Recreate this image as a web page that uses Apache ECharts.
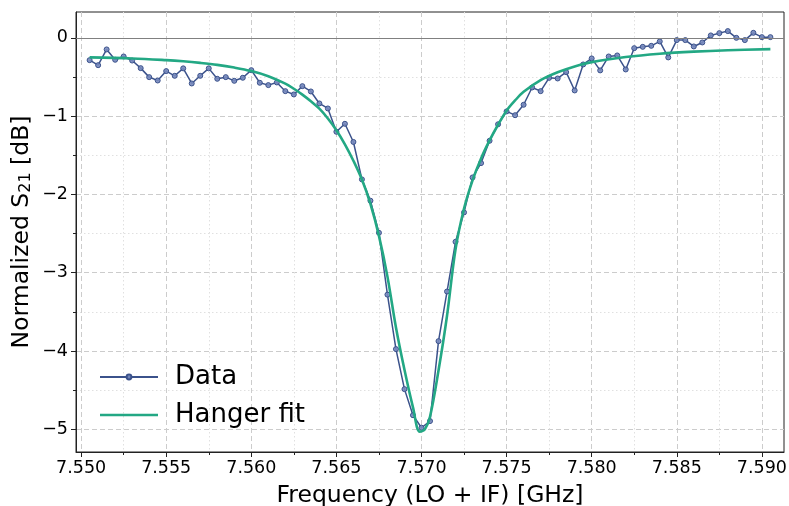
<!DOCTYPE html>
<html>
<head>
<meta charset="utf-8">
<script src="https://cdn.jsdelivr.net/npm/echarts@6/dist/echarts.min.js"></script>
<style>
html,body{margin:0;padding:0;background:#fff;}
#chart{width:789px;height:506px;}
</style>
</head>
<body>
<div id="chart"></div>
<script>
// Measured data (frequency in GHz, normalized S21 in dB)
const dataFreq = [
  7.5505, 7.5510, 7.5515, 7.5520, 7.5525, 7.5530, 7.5535, 7.5540, 7.5545, 7.5550,
  7.5555, 7.5560, 7.5565, 7.5570, 7.5575, 7.5580, 7.5585, 7.5590, 7.5595, 7.5600,
  7.5605, 7.5610, 7.5615, 7.5620, 7.5625, 7.5630, 7.5635, 7.5640, 7.5645, 7.5650,
  7.5655, 7.5660, 7.5665, 7.5670, 7.5675, 7.5680, 7.5685, 7.5690, 7.5695, 7.5700,
  7.5705, 7.5710, 7.5715, 7.5720, 7.5725, 7.5730, 7.5735, 7.5740, 7.5745, 7.5750,
  7.5755, 7.5760, 7.5765, 7.5770, 7.5775, 7.5780, 7.5785, 7.5790, 7.5795, 7.5800,
  7.5805, 7.5810, 7.5815, 7.5820, 7.5825, 7.5830, 7.5835, 7.5840, 7.5845, 7.5850,
  7.5855, 7.5860, 7.5865, 7.5870, 7.5875, 7.5880, 7.5885, 7.5890, 7.5895, 7.5900,
  7.5905
];
const dataS21 = [
  -0.285, -0.349, -0.148, -0.280, -0.238, -0.290, -0.387, -0.502, -0.545, -0.425,
  -0.485, -0.390, -0.583, -0.485, -0.390, -0.523, -0.502, -0.549, -0.510, -0.413,
  -0.574, -0.604, -0.570, -0.681, -0.723, -0.617, -0.685, -0.838, -0.902, -1.200,
  -1.098, -1.330, -1.808, -2.080, -2.490, -3.280, -3.976, -4.487, -4.820, -4.980,
  -4.895, -3.874, -3.240, -2.605, -2.230, -1.783, -1.600, -1.315, -1.104, -0.940,
  -0.988, -0.855, -0.634, -0.681, -0.511, -0.519, -0.438, -0.672, -0.340, -0.263,
  -0.416, -0.238, -0.225, -0.404, -0.132, -0.115, -0.102, -0.046, -0.250, -0.029,
  -0.029, -0.110, -0.059, 0.031, 0.060, 0.086, 0.000, -0.029, 0.064, 0.009,
  0.009
];
// Hanger fit curve
const fitFreq = [
  7.5505, 7.5530, 7.5550, 7.5560, 7.5570, 7.5580, 7.5590, 7.5600, 7.5610, 7.5620,
  7.5625, 7.5630, 7.5635, 7.5640, 7.5645, 7.5650, 7.5655, 7.5660, 7.5665, 7.5670,
  7.5675, 7.5680, 7.5685, 7.5690, 7.5695, 7.5699, 7.5702, 7.5705, 7.5710, 7.5715,
  7.5720, 7.5725, 7.5730, 7.5735, 7.5740, 7.5745, 7.5750, 7.5755, 7.5760, 7.5770,
  7.5780, 7.5790, 7.5800, 7.5820, 7.5840, 7.5860, 7.5880, 7.5905
];
const fitS21 = [
  -0.250, -0.263, -0.285, -0.300, -0.320, -0.345, -0.380, -0.425, -0.490, -0.585,
  -0.650, -0.725, -0.810, -0.905, -1.030, -1.180, -1.360, -1.570, -1.810, -2.120,
  -2.530, -3.050, -3.700, -4.240, -4.720, -5.030, -5.000, -4.840, -4.250, -3.550,
  -2.700, -2.180, -1.820, -1.540, -1.310, -1.110, -0.930, -0.800, -0.690, -0.540,
  -0.440, -0.365, -0.310, -0.245, -0.203, -0.176, -0.158, -0.144
];
// Tick positions
const xMajorTicks = [7.550, 7.555, 7.560, 7.565, 7.570, 7.575, 7.580, 7.585, 7.590];
const xMinorTicks = [7.5525, 7.5575, 7.5625, 7.5675, 7.5725, 7.5775, 7.5825, 7.5875];
const yMajorTicks = [-5, -4, -3, -2, -1, 0];
const yMinorTicks = [-4.5, -3.5, -2.5, -1.5, -0.5];
const seriesNames = ['Data', 'Hanger fit'];
const xTitle = 'Frequency (LO + IF) [GHz]';

const X_MIN = 7.5497, X_MAX = 7.5913, Y_MIN = -5.29, Y_MAX = 0.33;
const pairs = (xs, ys) => xs.map((x, i) => [x, ys[i]]);
const font = 'DejaVu Sans';
const axisColor = '#222';
const fitColor = '#23a884';

function majorAxis(extra) {
  return Object.assign({
    type: 'value',
    axisLine: {show: true, onZero: false, lineStyle: {color: axisColor, width: 1}},
    splitLine: {show: true, lineStyle: {color: '#cccccc', type: [5, 3], width: 1}},
    minorTick: {show: false}, minorSplitLine: {show: false}
  }, extra);
}
function minorAxis(extra) {
  return Object.assign({
    type: 'value',
    axisLine: {show: false, onZero: false},
    axisLabel: {show: false},
    splitLine: {show: true, lineStyle: {color: '#e0e0e0', type: [1.5, 2.5], width: 1}},
    minorTick: {show: false}, minorSplitLine: {show: false}
  }, extra);
}

const chart = echarts.init(document.getElementById('chart'), null, {renderer: 'canvas'});
chart.setOption({
  animation: false,
  backgroundColor: '#fff',
  grid: {left: 76, right: 5, top: 12, bottom: 54, show: true, borderColor: axisColor, borderWidth: 1,
         containLabel: false, outerBoundsMode: 'none'},
  xAxis: [
    majorAxis({
      min: X_MIN, max: X_MAX, position: 'bottom',
      name: xTitle, nameLocation: 'middle', nameGap: 32, nameMoveOverlap: false,
      nameTextStyle: {fontFamily: font, fontSize: 23.5, color: '#000'},
      axisTick: {show: true, inside: false, length: 5, customValues: xMajorTicks, lineStyle: {color: axisColor}},
      axisLabel: {fontFamily: font, fontSize: 17.5, color: '#000', margin: 7, customValues: xMajorTicks,
                  formatter: v => Number(v).toFixed(3)}
    }),
    minorAxis({
      min: X_MIN, max: X_MAX, position: 'bottom', gridIndex: 0,
      axisTick: {show: true, inside: false, length: 3, customValues: xMinorTicks, lineStyle: {color: axisColor}}
    })
  ],
  yAxis: [
    majorAxis({
      min: Y_MIN, max: Y_MAX, position: 'left',
      name: 'Normalized S{sub|21} [dB]', nameLocation: 'middle', nameGap: 42, nameRotate: 90, nameMoveOverlap: false,
      nameTextStyle: {fontFamily: font, fontSize: 23.5, color: '#000',
        rich: {sub: {fontFamily: font, fontSize: 16, color: '#000', verticalAlign: 'bottom', padding: [8, 0, 0, 0]}}},
      axisTick: {show: true, inside: false, length: 5, customValues: yMajorTicks, lineStyle: {color: axisColor}},
      axisLabel: {fontFamily: font, fontSize: 17.5, color: '#000', margin: 8, customValues: yMajorTicks,
                  formatter: v => String(Math.round(v)).replace('-', '\u2212')}
    }),
    minorAxis({
      min: Y_MIN, max: Y_MAX, position: 'left', gridIndex: 0,
      axisTick: {show: true, inside: false, length: 3, customValues: yMinorTicks, lineStyle: {color: axisColor}}
    })
  ],
  legend: {
    left: 94, top: 359, orient: 'vertical', itemWidth: 58, itemHeight: 6, itemGap: 12,
    data: [
      {name: seriesNames[0]},
      {name: seriesNames[1], icon: 'path://M0,0 L58,0 L58,2.6 L0,2.6 Z', itemStyle: {color: fitColor}}
    ],
    textStyle: {fontFamily: font, fontSize: 26, color: '#000', padding: [0, 0, 0, 12]}
  },
  series: [
    {
      name: 'zero', type: 'line', data: [], z: 1, silent: true, xAxisIndex: 0, yAxisIndex: 0,
      markLine: {
        silent: true, symbol: 'none', label: {show: false},
        lineStyle: {color: '#808080', type: 'solid', width: 1.2},
        data: [{yAxis: 0}]
      }
    },
    {
      name: seriesNames[0], type: 'line', z: 2, xAxisIndex: 0, yAxisIndex: 0,
      data: pairs(dataFreq, dataS21),
      symbol: 'circle', symbolSize: 5, showSymbol: true,
      lineStyle: {color: '#3b528b', width: 1.5},
      itemStyle: {color: 'rgba(120,138,190,0.9)', borderColor: '#3b528b', borderWidth: 1}
    },
    {
      name: seriesNames[1], type: 'line', z: 3, xAxisIndex: 0, yAxisIndex: 0,
      data: pairs(fitFreq, fitS21),
      smooth: 0.35, symbol: 'none', showSymbol: false,
      lineStyle: {color: fitColor, width: 2.6},
      itemStyle: {color: fitColor}
    }
  ]
});
</script>
</body>
</html>
